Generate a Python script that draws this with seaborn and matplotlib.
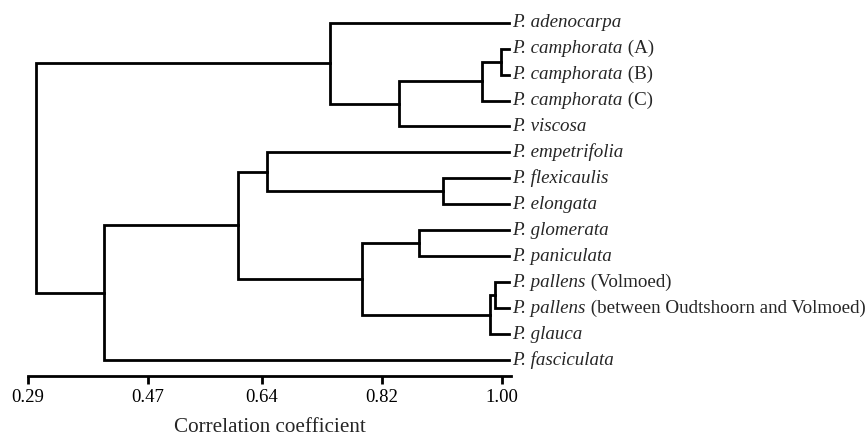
import pandas as pd
import matplotlib
matplotlib.use("Agg")
import matplotlib.pyplot as plt
import seaborn as sns

# leaves, top to bottom
species = ["P. adenocarpa", "P. camphorata", "P. camphorata", "P. camphorata",
           "P. viscosa", "P. empetrifolia", "P. flexicaulis", "P. elongata",
           "P. glomerata", "P. paniculata", "P. pallens", "P. pallens",
           "P. glauca", "P. fasciculata"]
notes = ["", " (A)", " (B)", " (C)", "", "", "", "", "", "",
         " (Volmoed)", " (between Oudtshoorn and Volmoed)", "", ""]

# merges: (left, right, correlation); ints are leaf indices, "cN" are earlier merges
merges = [
    (1, 2, 0.998),        # c0
    ("c0", 3, 0.970),     # c1
    ("c1", 4, 0.845),     # c2
    (0, "c2", 0.743),     # c3
    (6, 7, 0.911),        # c4
    (5, "c4", 0.648),     # c5
    (8, 9, 0.875),        # c6
    (10, 11, 0.989),      # c7
    ("c7", 12, 0.982),    # c8
    ("c6", "c8", 0.791),  # c9
    ("c5", "c9", 0.605),  # c10
    ("c10", 13, 0.404),   # c11
    ("c3", "c11", 0.302), # c12
]
leaf_level = 1.010

tick_values = [0.29, 0.47, 0.64, 0.82, 1.00]
tick_labels = ["0.29", "0.47", "0.64", "0.82", "1.00"]

# build the link segments
nodes = {}
rows = []
for i, (a, b, h) in enumerate(merges):
    pts = []
    for child in (a, b):
        if isinstance(child, int):
            pts.append((leaf_level, float(child)))
        else:
            pts.append(nodes[child])
    (xa, ya), (xb, yb) = pts
    path = [(xa, ya), (h, ya), (h, yb), (xb, yb)]
    for k, (x, y) in enumerate(path):
        rows.append({"link": i, "order": k, "corr": x, "pos": y})
    nodes["c%d" % i] = (h, (ya + yb) / 2)
df = pd.DataFrame(rows)

sns.set_style("white")
plt.rcParams["font.family"] = ["Liberation Serif", "DejaVu Serif"]

fig = plt.figure(figsize=(8.67, 4.37), dpi=100)
ax = fig.add_axes([28 / 867, 61 / 437, 483 / 867, 366 / 437])

sns.lineplot(data=df, x="corr", y="pos", units="link", estimator=None,
             sort=False, color="black", linewidth=2.0, legend=False, ax=ax,
             solid_joinstyle="miter", solid_capstyle="projecting")

ax.set_xlim(0.29, 0.29 + 483 / 667.6)
ax.set_ylim(13.617, -0.49)

for i, (sp, note) in enumerate(zip(species, notes)):
    t = ax.annotate(sp, xy=(leaf_level, i), xytext=(2.5, 0), textcoords="offset points",
                    fontsize=13.7, fontstyle="italic", va="center", ha="left")
    if note:
        ax.annotate(note, xy=(1, 0), xycoords=t, fontsize=13.7,
                    va="bottom", ha="left")

for s in ("left", "top", "right"):
    ax.spines[s].set_visible(False)
ax.spines["bottom"].set_linewidth(2.0)
ax.spines["bottom"].set_color("black")
ax.set_yticks([])
ax.set_ylabel("")
ax.set_xticks(tick_values)
ax.set_xticklabels(tick_labels)
ax.tick_params(axis="x", direction="out", length=6, width=2.0, labelsize=13.5,
               pad=3, bottom=True, colors="black")
ax.set_xlabel("Correlation coefficient", fontsize=15.2, labelpad=9)

fig.savefig("out.png", dpi=100)
